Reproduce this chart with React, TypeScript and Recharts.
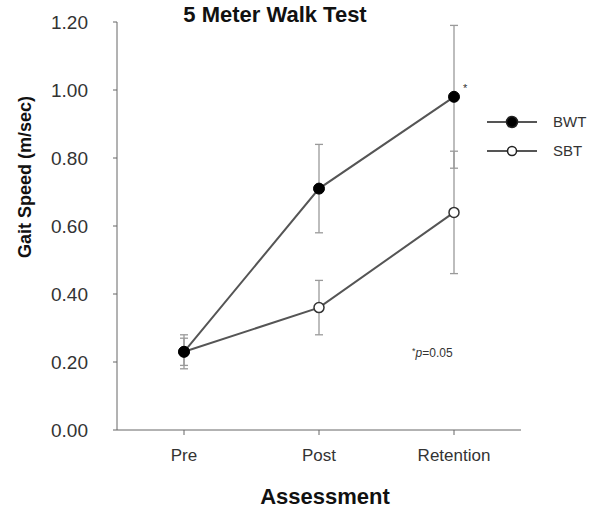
import { LineChart, Line, XAxis, YAxis, ErrorBar } from "recharts";

// Values (means with SD bars)
const PHASES = ["Pre", "Post", "Retention"];
const BWT_MEAN = [0.23, 0.71, 0.98];
const BWT_SD = [0.05, 0.13, 0.21];
const SBT_MEAN = [0.23, 0.36, 0.64];
const SBT_SD = [0.04, 0.08, 0.18];
const BWT_MARK = ["", "", "*"];
const Y_TICKS = [0, 0.2, 0.4, 0.6, 0.8, 1.0, 1.2];

const FONT = "'Liberation Sans', Arial, sans-serif";
const LINE = "#555";
const BAR = "#9a9a9a";
const AXIS = "#666";
const TEXT = "#333";

const data = PHASES.map((phase, i) => ({
  phase,
  bwt: BWT_MEAN[i],
  bwtErr: BWT_SD[i],
  sbt: SBT_MEAN[i],
  sbtErr: SBT_SD[i],
}));

function StarLabel({ x, y, index }: any) {
  const mark = BWT_MARK[index];
  if (!mark) return null;
  return (
    <text x={x + 9} y={y - 5} fontSize={11} fill={TEXT} fontFamily={FONT}>
      {mark}
    </text>
  );
}

// y-axis title sits above the plot's vertical centre in the original
function YTitle({ viewBox }: any) {
  const cx = 25;
  const cy = viewBox.y + viewBox.height / 2 - 49;
  return (
    <text
      x={cx}
      y={cy}
      transform={`rotate(-90 ${cx} ${cy})`}
      textAnchor="middle"
      dominantBaseline="central"
      fontSize={18}
      fontWeight="bold"
      fill="#111"
      fontFamily={FONT}
    >
      Gait Speed (m/sec)
    </text>
  );
}

function GroupLegend() {
  const rows = [
    { name: "BWT", fill: "#000" },
    { name: "SBT", fill: "#fff" },
  ];
  return (
    <div style={{ fontFamily: FONT }}>
      {rows.map((r) => (
        <div key={r.name} style={{ display: "flex", alignItems: "center", height: 29 }}>
          <svg width={52} height={14}>
            <line x1={0} y1={7} x2={50} y2={7} stroke={LINE} strokeWidth={2} />
            <circle cx={25} cy={7} r={r.name === "BWT" ? 5.5 : 4.5} fill={r.fill} stroke="#222" strokeWidth={1.5} />
          </svg>
          <span style={{ marginLeft: 14, fontSize: 15, color: TEXT }}>{r.name}</span>
        </div>
      ))}
    </div>
  );
}

export default function App() {
  return (
    <div style={{ position: "absolute", left: 0, top: 0, width: 600, height: 511, background: "#fff", fontFamily: FONT }}>
      <div style={{ position: "absolute", left: 0, width: 550, top: 2, textAlign: "center", fontSize: 22, fontWeight: "bold", color: "#111" }}>
        5 Meter Walk Test
      </div>
      <LineChart width={600} height={511} data={data} margin={{ top: 22, right: 79, bottom: 0, left: 0 }}>
        <XAxis
          dataKey="phase"
          height={81}
          stroke={AXIS}
          padding={{ left: 67, right: 67 }}
          tickSize={5}
          tickMargin={14}
          tick={{ fill: TEXT, fontSize: 17, fontFamily: FONT }}
          label={{ value: "Assessment", position: "insideBottom", offset: 7, fill: "#111", fontSize: 22, fontWeight: "bold", fontFamily: FONT, dx: 6 }}
        />
        <YAxis
          width={117}
          domain={[0, 1.2]}
          ticks={Y_TICKS}
          tickFormatter={(v: number) => v.toFixed(2)}
          stroke={AXIS}
          tickSize={4}
          tickMargin={25}
          tick={{ fill: TEXT, fontSize: 19, fontFamily: FONT }}
          label={<YTitle />}
        />
        <Line
          dataKey="sbt"
          name="SBT"
          stroke={LINE}
          strokeWidth={2}
          dot={{ r: 5, fill: "#fff", stroke: "#333", strokeWidth: 1.5 }}
          isAnimationActive={false}
        >
          <ErrorBar dataKey="sbtErr" width={4} stroke={BAR} strokeWidth={1.3} direction="y" isAnimationActive={false} />
        </Line>
        <Line
          dataKey="bwt"
          name="BWT"
          stroke={LINE}
          strokeWidth={2}
          dot={{ r: 5.5, fill: "#000", stroke: "#000", strokeWidth: 1 }}
          label={<StarLabel />}
          isAnimationActive={false}
        >
          <ErrorBar dataKey="bwtErr" width={4} stroke={BAR} strokeWidth={1.3} direction="y" isAnimationActive={false} />
        </Line>
      </LineChart>
      <div style={{ position: "absolute", left: 487, top: 107 }}>
        <GroupLegend />
      </div>
      <div style={{ position: "absolute", left: 412, top: 346, fontSize: 12, color: TEXT }}>
        <span style={{ fontSize: 9, verticalAlign: "top" }}>*</span>
        <i>p</i>=0.05
      </div>
    </div>
  );
}
